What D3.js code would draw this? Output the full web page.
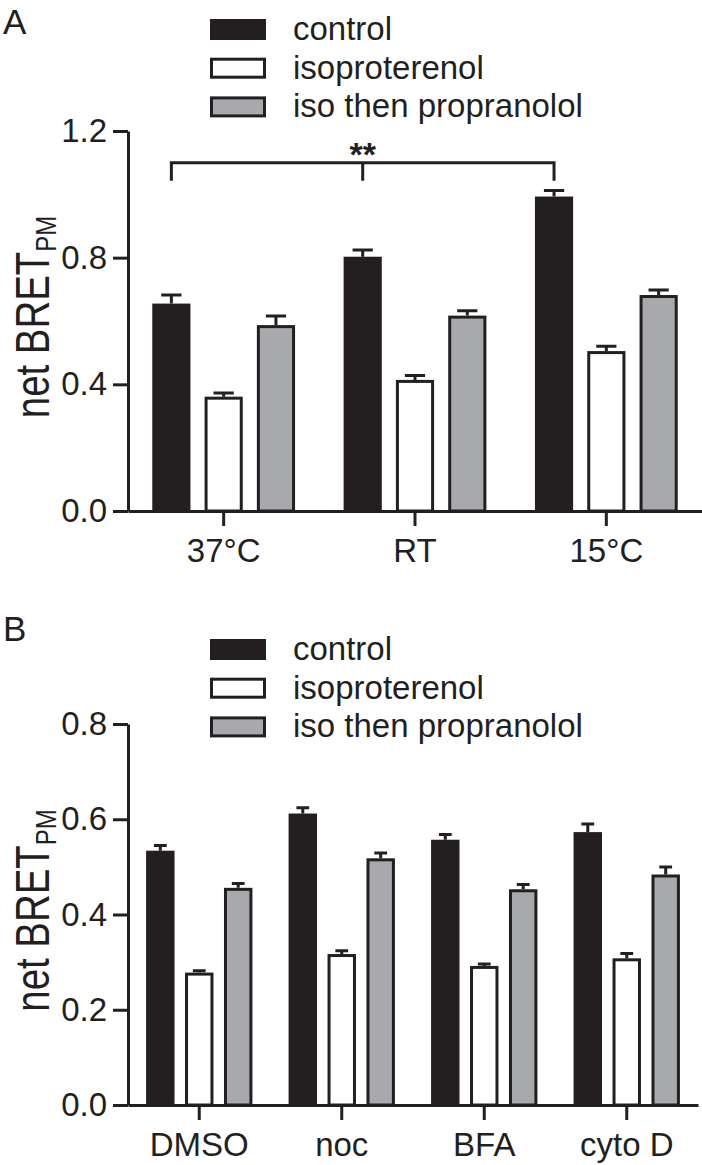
<!DOCTYPE html>
<html>
<head>
<meta charset="utf-8">
<script src="https://cdn.jsdelivr.net/npm/d3@7"></script>
<style>
  html, body { margin: 0; padding: 0; background: #fff; }
  svg { display: block; font-family: "Liberation Sans", Arial, Helvetica, sans-serif; }
</style>
</head>
<body>
<svg id="chart" width="702" height="1165"></svg>
<script>
// ---------- data ----------
const seriesNames = ["control", "isoproterenol", "iso then propranolol"];

const categoriesA = ["37°C", "RT", "15°C"];
const controlA = [0.655, 0.803, 0.993];
const controlErrA = [0.027, 0.021, 0.019];
const isoA = [0.361, 0.414, 0.505];
const isoErrA = [0.012, 0.014, 0.015];
const propA = [0.587, 0.617, 0.682];
const propErrA = [0.029, 0.015, 0.016];
const yTicksA = [0.0, 0.4, 0.8, 1.2];

const categoriesB = ["DMSO", "noc", "BFA", "cyto D"];
const controlB = [0.534, 0.612, 0.557, 0.573];
const controlErrB = [0.011, 0.012, 0.011, 0.017];
const isoB = [0.278, 0.317, 0.292, 0.308];
const isoErrB = [0.004, 0.007, 0.004, 0.010];
const propB = [0.456, 0.518, 0.453, 0.484];
const propErrB = [0.009, 0.011, 0.010, 0.016];
const yTicksB = [0.0, 0.2, 0.4, 0.6, 0.8];

// ---------- style ----------
const INK = "#231f20";
const fills = { "control": "#231f20", "isoproterenol": "#ffffff", "iso then propranolol": "#a7a9ac" };
const SW = 3;

const svg = d3.select("#chart");

function legend(g, top) {
  seriesNames.forEach((s, i) => {
    const y = top + i * 38.7;
    g.append("rect").attr("x", 211.5).attr("y", y + 1.5).attr("width", 53).attr("height", 18)
      .attr("fill", fills[s]).attr("stroke", INK).attr("stroke-width", SW);
    g.append("text").attr("x", 293).attr("y", y + 21).attr("font-size", 33).attr("fill", INK).text(s);
  });
}

function panel(opts) {
  const g = svg.append("g");
  const x0 = d3.scaleBand().domain(opts.categories).range(opts.xRange).padding(0);
  const bw = x0.bandwidth();
  const x1 = d3.scaleBand().domain(seriesNames).range([bw * 0.09, bw * 0.91])
    .paddingInner(0.27).paddingOuter(0.135);
  const y = d3.scaleLinear().domain(opts.yDomain).range(opts.yRange);

  const rows = opts.categories.map((c, i) => ({
    cat: c,
    vals: [
      { s: seriesNames[0], v: opts.series[0][i], e: opts.errs[0][i] },
      { s: seriesNames[1], v: opts.series[1][i], e: opts.errs[1][i] },
      { s: seriesNames[2], v: opts.series[2][i], e: opts.errs[2][i] }
    ]
  }));

  const groups = g.selectAll("g.grp").data(rows).join("g")
    .attr("class", "grp")
    .attr("transform", d => `translate(${x0(d.cat)},0)`);

  // error bars (upward only)
  groups.selectAll("path.err").data(d => d.vals).join("path")
    .attr("class", "err")
    .attr("fill", "none").attr("stroke", INK).attr("stroke-width", SW)
    .attr("d", d => {
      const cx = x1(d.s) + x1.bandwidth() / 2;
      const hw = x1.bandwidth() * opts.capFrac / 2;
      return `M${cx},${y(d.v)}V${y(d.v + d.e)}M${cx - hw},${y(d.v + d.e)}H${cx + hw}`;
    });

  groups.selectAll("rect").data(d => d.vals).join("rect")
    .attr("x", d => x1(d.s) + SW / 2)
    .attr("width", x1.bandwidth() - SW)
    .attr("y", d => y(d.v) + SW / 2)
    .attr("height", d => y(0) - y(d.v) - SW / 2)
    .attr("fill", d => fills[d.s])
    .attr("stroke", INK).attr("stroke-width", SW);

  // axes
  const yAxis = d3.axisLeft(y).tickValues(opts.yTicks).tickFormat(d3.format(".1f"))
    .tickSize(15).tickPadding(6).tickSizeOuter(0);
  const ya = g.append("g").attr("transform", `translate(${opts.xRange[0]},0)`).call(yAxis);
  const xAxis = d3.axisBottom(x0).tickSize(15).tickPadding(13).tickSizeOuter(0);
  const xa = g.append("g").attr("transform", `translate(0,${y(0)})`).call(xAxis);
  [ya, xa].forEach(a => {
    a.select(".domain").attr("stroke", INK).attr("stroke-width", SW);
    a.selectAll(".tick line").attr("stroke", INK).attr("stroke-width", SW);
    a.selectAll(".tick text").attr("fill", INK).attr("font-size", 33)
      .attr("font-family", "Liberation Sans, Arial, sans-serif");
  });

  // y label (condensed)
  const cy = (opts.yRange[0] + opts.yRange[1]) / 2 - 4;
  const lab = g.append("text")
    .attr("transform", `translate(49,${cy}) rotate(-90) scale(0.8,1)`)
    .attr("text-anchor", "middle").attr("fill", INK).attr("font-size", 48);
  lab.append("tspan").text("net BRET");
  lab.append("tspan").attr("font-size", 30).attr("dy", 7).text("PM");

  // panel letter
  g.append("text").attr("x", 3).attr("y", opts.letterY).attr("font-size", 35).attr("fill", INK).text(opts.letter);

  legend(g, opts.legendTop);
  return { g, x0, x1, y };
}

const A = panel({
  categories: categoriesA,
  series: [controlA, isoA, propA],
  errs: [controlErrA, isoErrA, propErrA],
  xRange: [128, 702], yRange: [511, 131], yDomain: [0, 1.2], yTicks: yTicksA,
  capFrac: 0.53, letter: "A", letterY: 34, legendTop: 19
});

// significance bracket between control bars
{
  const cx = c => A.x0(c) + A.x1("control") + A.x1.bandwidth() / 2;
  const yTop = A.y(1.1), yBot = A.y(1.043);
  const xl = cx(categoriesA[0]), xm = cx(categoriesA[1]), xr = cx(categoriesA[2]);
  A.g.append("path").attr("fill", "none").attr("stroke", INK).attr("stroke-width", SW)
    .attr("d", `M${xl},${yBot}V${yTop}H${xr}V${yBot}M${xm},${yTop}V${yBot}`);
  A.g.append("text").attr("x", xm).attr("y", yTop + 3).attr("text-anchor", "middle")
    .attr("font-size", 34).attr("font-weight", "bold").attr("fill", INK).text("**");
}

panel({
  categories: categoriesB,
  series: [controlB, isoB, propB],
  errs: [controlErrB, isoErrB, propErrB],
  xRange: [128, 698], yRange: [1105, 724], yDomain: [0, 0.8], yTicks: yTicksB,
  capFrac: 0.45, letter: "B", letterY: 641, legendTop: 639
});
</script>
</body>
</html>
